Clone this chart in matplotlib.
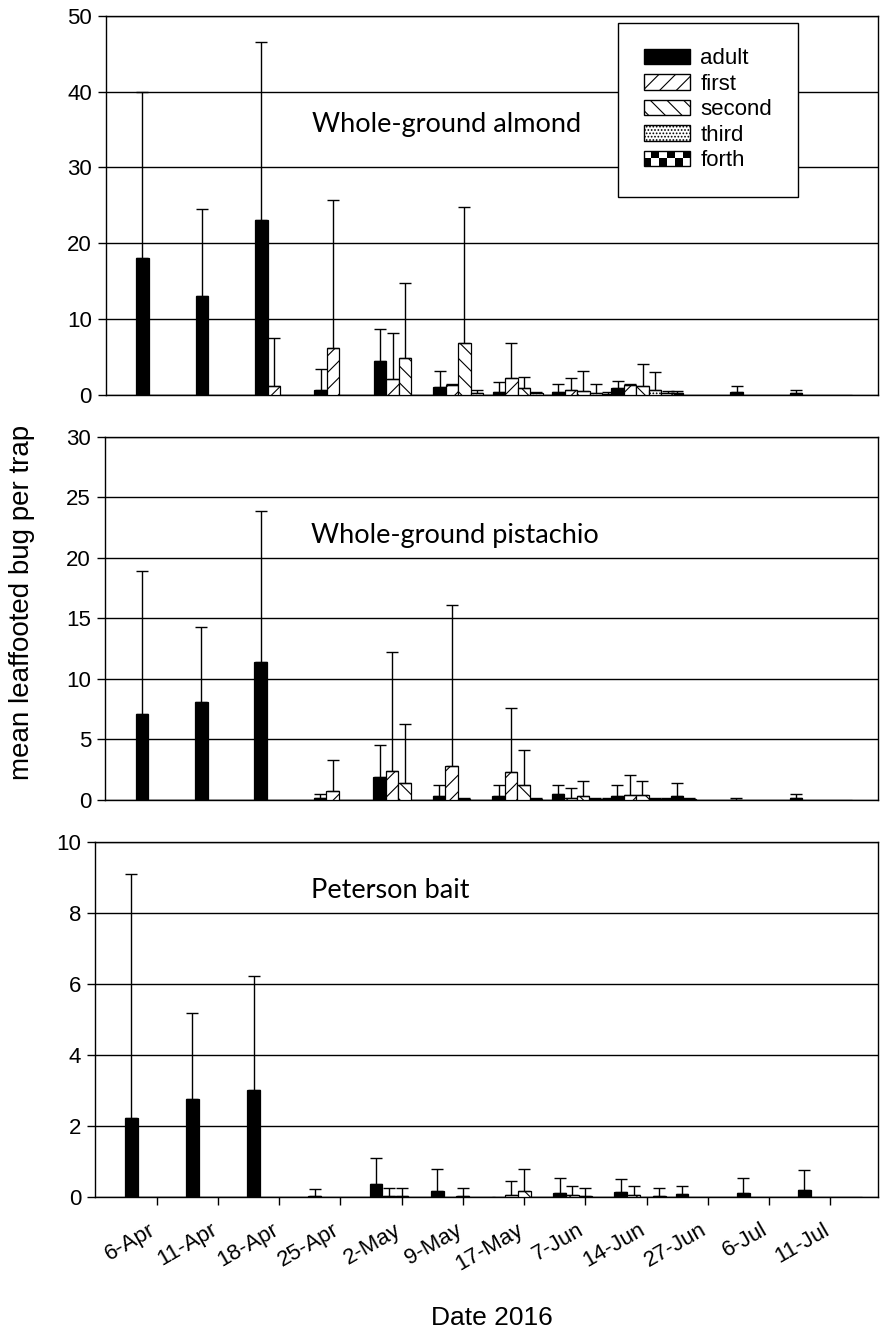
import numpy as np
import matplotlib
matplotlib.use('Agg')
import matplotlib.pyplot as plt
import matplotlib.transforms as mtransforms
from matplotlib.patches import Patch, Rectangle
from matplotlib.legend_handler import HandlerBase

dates = ['6-Apr', '11-Apr', '18-Apr', '25-Apr', '2-May', '9-May', '17-May',
         '7-Jun', '14-Jun', '27-Jun', '6-Jul', '11-Jul']
stages = ['adult', 'first', 'second', 'third', 'forth']

## Whole-ground almond (mean, top of error bar)
alm_adult = [18.0, 13.0, 23.1, 0.6, 4.5, 1.1, 0.4, 0.4, 0.9, 0.2, 0.4, 0.2]
alm_adult_top = [40.0, 24.5, 46.6, 3.4, 8.7, 3.2, 1.7, 1.4, 1.8, 0.5, 1.2, 0.6]
alm_first = [0, 0, 1.2, 6.2, 2.1, 1.3, 2.2, 0.6, 1.3, 0, 0, 0]
alm_first_top = [0, 0, 7.5, 25.7, 8.2, 1.4, 6.8, 2.2, 1.4, 0, 0, 0]
alm_second = [0, 0, 0, 0, 4.9, 6.8, 0.9, 0.5, 1.2, 0, 0, 0]
alm_second_top = [0, 0, 0, 0, 14.7, 24.8, 2.4, 3.2, 4.1, 0, 0, 0]
alm_third = [0, 0, 0, 0, 0, 0.2, 0.3, 0.3, 0.6, 0, 0, 0]
alm_third_top = [0, 0, 0, 0, 0, 0.6, 0.4, 1.4, 3.0, 0, 0, 0]
alm_forth = [0, 0, 0, 0, 0, 0, 0, 0.1, 0.2, 0, 0, 0]
alm_forth_top = [0, 0, 0, 0, 0, 0, 0, 0.4, 0.5, 0, 0, 0]

## Whole-ground pistachio
pis_adult = [7.1, 8.1, 11.4, 0.2, 1.9, 0.35, 0.35, 0.5, 0.35, 0.35, 0.02, 0.15]
pis_adult_top = [18.9, 14.3, 23.9, 0.5, 4.5, 1.2, 1.2, 1.2, 1.2, 1.4, 0.2, 0.5]
pis_first = [0, 0, 0, 0.75, 2.4, 2.8, 2.3, 0.15, 0.4, 0.05, 0, 0]
pis_first_top = [0, 0, 0, 3.3, 12.2, 16.1, 7.6, 1.0, 2.1, 0.2, 0, 0]
pis_second = [0, 0, 0, 0, 1.4, 0.05, 1.25, 0.3, 0.4, 0, 0, 0]
pis_second_top = [0, 0, 0, 0, 6.3, 0.2, 4.1, 1.6, 1.6, 0, 0, 0]
pis_third = [0, 0, 0, 0, 0, 0, 0.1, 0.1, 0.1, 0, 0, 0]
pis_third_top = [0, 0, 0, 0, 0, 0, 0.2, 0.2, 0.2, 0, 0, 0]
pis_forth = [0, 0, 0, 0, 0, 0, 0, 0.1, 0.05, 0, 0, 0]
pis_forth_top = [0, 0, 0, 0, 0, 0, 0, 0.2, 0.15, 0, 0, 0]

## Peterson bait
pet_adult = [2.23, 2.75, 3.01, 0.03, 0.37, 0.18, 0, 0.1, 0.15, 0.08, 0.1, 0.19]
pet_adult_top = [9.1, 5.18, 6.22, 0.23, 1.1, 0.8, 0, 0.53, 0.5, 0.3, 0.53, 0.77]
pet_first = [0, 0, 0, 0, 0.03, 0, 0.06, 0.06, 0.06, 0, 0, 0]
pet_first_top = [0, 0, 0, 0, 0.25, 0, 0.45, 0.3, 0.3, 0, 0, 0]
pet_second = [0, 0, 0, 0, 0.03, 0.03, 0.18, 0.03, 0, 0, 0, 0]
pet_second_top = [0, 0, 0, 0, 0.25, 0.25, 0.8, 0.25, 0, 0, 0, 0]
pet_third = [0, 0, 0, 0, 0, 0, 0, 0, 0.03, 0, 0, 0]
pet_third_top = [0, 0, 0, 0, 0, 0, 0, 0, 0.25, 0, 0, 0]
pet_forth = [0] * 12
pet_forth_top = [0] * 12

plt.rcParams['font.family'] = ['Liberation Sans', 'DejaVu Sans']
plt.rcParams['hatch.linewidth'] = 0.8

hatches = [None, '//', '\\\\', '.....', 'xx']
colors = ['black', 'white', 'white', 'white', 'white']
width = 0.21


class CheckerHandler(HandlerBase):
    # legend key for "forth": black/white checkerboard
    def create_artists(self, legend, orig_handle, xdescent, ydescent,
                       w, h, fontsize, trans):
        arts = []
        nx, ny = 6, 2
        for i in range(nx):
            for j in range(ny):
                fc = 'black' if (i + j) % 2 == 0 else 'white'
                arts.append(Rectangle((-xdescent + i * w / nx, -ydescent + j * h / ny),
                                      w / nx, h / ny, facecolor=fc, edgecolor='none',
                                      transform=trans))
        arts.append(Rectangle((-xdescent, -ydescent), w, h, fill=False,
                              edgecolor='black', lw=1, transform=trans))
        return arts


def draw_panel(ax, means, tops, ymax, ystep, title, tpos, xlim):
    x = np.arange(len(dates))
    for i, (m, t) in enumerate(zip(means, tops)):
        m = np.asarray(m, dtype=float)
        t = np.asarray(t, dtype=float)
        pos = x + (i - 2) * width
        ax.bar(pos, m, width, color=colors[i], edgecolor='black', lw=0.9,
               hatch=hatches[i], zorder=3)
        ok = t > 0
        ax.errorbar(pos[ok], m[ok], yerr=[np.zeros(ok.sum()), (t - m)[ok]],
                    fmt='none', ecolor='black', elinewidth=1, capsize=4.6,
                    capthick=1, zorder=4)
    ax.set_ylim(0, ymax)
    ax.set_yticks(np.arange(0, ymax + ystep / 2, ystep))
    ax.set_xlim(*xlim)
    ax.grid(axis='y', color='black', lw=1)
    ax.set_axisbelow(True)
    for s in ax.spines.values():
        s.set_linewidth(1)
    ax.tick_params(axis='y', direction='out', length=6, width=1, labelsize=16, pad=4)
    ax.text(tpos[0], tpos[1], title, transform=ax.transAxes, fontsize=19.5,
            family=['Lato', 'DejaVu Sans'], ha='left', va='baseline')


fig = plt.figure(figsize=(8.85, 13.33), dpi=100)
ax1 = fig.add_axes([0.1194, 0.7037, 0.8726, 0.2845])
ax2 = fig.add_axes([0.1186, 0.3999, 0.8734, 0.2725])
ax3 = fig.add_axes([0.1073, 0.1020, 0.8847, 0.2661])

draw_panel(ax1, [alm_adult, alm_first, alm_second, alm_third, alm_forth],
           [alm_adult_top, alm_first_top, alm_second_top, alm_third_top, alm_forth_top],
           50, 10, 'Whole-ground almond', (0.267, 0.693), (-1.04, 11.96))
draw_panel(ax2, [pis_adult, pis_first, pis_second, pis_third, pis_forth],
           [pis_adult_top, pis_first_top, pis_second_top, pis_third_top, pis_forth_top],
           30, 5, 'Whole-ground pistachio', (0.267, 0.707), (-1.04, 11.96))
draw_panel(ax3, [pet_adult, pet_first, pet_second, pet_third, pet_forth],
           [pet_adult_top, pet_first_top, pet_second_top, pet_third_top, pet_forth_top],
           10, 2, 'Peterson bait', (0.2755, 0.843), (-1.01, 11.78))

for ax in (ax1, ax2):
    ax.set_xticks([])

ax3.set_xticks(np.arange(len(dates)))
ax3.set_xticklabels(dates, rotation=30, ha='right', rotation_mode='anchor')
ax3.tick_params(axis='x', direction='out', length=6, width=1, labelsize=16, pad=8)
shift = mtransforms.ScaledTranslation(-0.08, -0.03, fig.dpi_scale_trans)
for lab in ax3.get_xticklabels():
    lab.set_transform(lab.get_transform() + shift)

## Legend
handles = [Patch(facecolor=colors[i], edgecolor='black', hatch=hatches[i], label=stages[i])
           for i in range(5)]
leg = ax1.legend(handles=handles, loc='upper right', bbox_to_anchor=(0.896, 0.981),
                 fontsize=16, frameon=True, fancybox=False, edgecolor='black',
                 framealpha=1, handlelength=2.1, handleheight=0.7, labelspacing=0.2,
                 handletextpad=0.45, borderpad=1.15, borderaxespad=0,
                 handler_map={handles[4]: CheckerHandler()})
leg.get_frame().set_linewidth(1)

fig.text(0.025, 0.548, 'mean leaffooted bug per trap', rotation=90, fontsize=20,
         ha='center', va='center')
fig.text(0.556, 0.0113, 'Date 2016', fontsize=19, ha='center', va='center')

plt.savefig('out.png', dpi=100)
